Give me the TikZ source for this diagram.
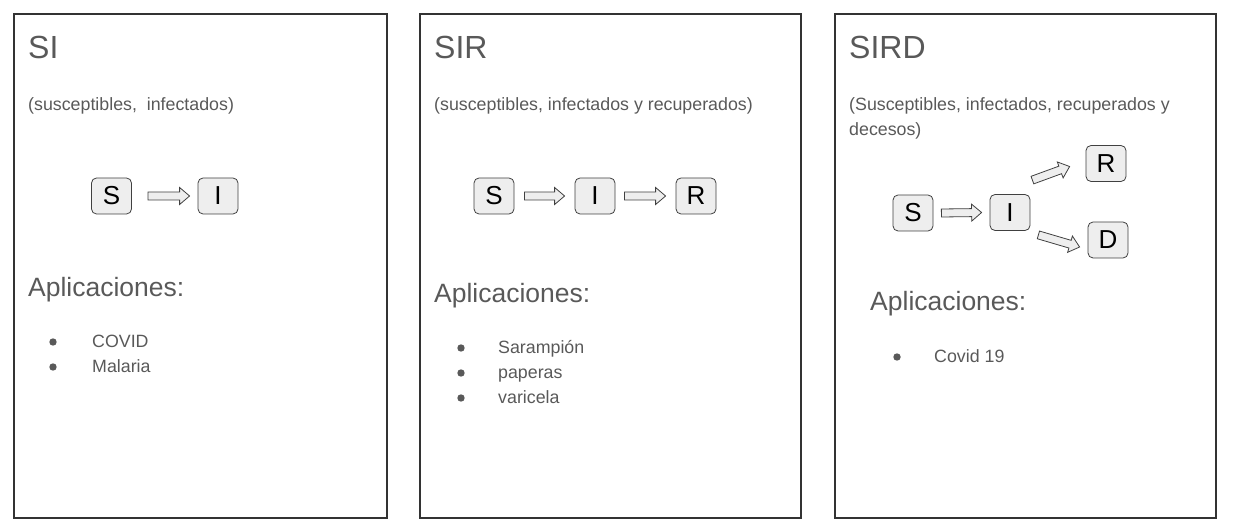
\documentclass[tikz,border=0pt]{standalone}
\usepackage{fontspec}
\setmainfont{Liberation Sans}
\usetikzlibrary{calc}

\definecolor{txtgray}{HTML}{595959}
\definecolor{boxfill}{HTML}{EEEEEE}
\definecolor{edgegray}{HTML}{333333}

% block arrow from tail #1 to tip #2
\newcommand{\blockarrow}[2]{%
  \coordinate (ba-t) at #1;
  \coordinate (ba-h) at #2;
  \coordinate (ba-n) at ($(ba-h)!10pt!(ba-t)$);
  \draw[arrowbody] ($(ba-t)!4pt!90:(ba-h)$) -- ($(ba-n)!4pt!90:(ba-h)$)
    -- ($(ba-n)!8.5pt!90:(ba-h)$) -- (ba-h) -- ($(ba-n)!8.5pt!-90:(ba-h)$)
    -- ($(ba-n)!4pt!-90:(ba-h)$) -- ($(ba-t)!4pt!-90:(ba-h)$) -- cycle;}

\begin{document}
\begin{tikzpicture}[x=1pt, y=-1pt,
    panel/.style={draw=edgegray, line width=1.2pt},
    state/.style={draw=black!75, fill=boxfill, rounded corners=5pt, line width=0.8pt,
      minimum width=40pt, minimum height=36pt, inner sep=0pt, text=black,
      font=\fontsize{26}{30}\selectfont},
    arrowbody/.style={draw=black!75, fill=boxfill, line width=0.8pt},
    title/.style={anchor=base west, inner sep=0pt, text=txtgray,
      font=\fontsize{32}{38}\selectfont},
    subtitle/.style={anchor=base west, inner sep=0pt, text=txtgray,
      font=\fontsize{17.8}{24}\selectfont},
    heading/.style={anchor=base west, inner sep=0pt, text=txtgray,
      font=\fontsize{26.5}{32}\selectfont},
    item/.style={anchor=base west, inner sep=0pt, text=txtgray,
      font=\fontsize{17.8}{24}\selectfont}]
    \useasboundingbox (0,0) rectangle (1237,526);

    % Panels
    \draw[panel] (14,14) rectangle (387,518);
    \draw[panel] (420,14) rectangle (801,518);
    \draw[panel] (835,14) rectangle (1216,518);

    % SI
    \node[title] (t1) at (28,59) {SI};
    \node[subtitle] (s1) at (28,111) {(susceptibles,\ \ infectados)};
    \node[state] (S1) at (111.5,196) {S};
    \node[state] (I1) at (218,196) {I};
    \blockarrow{([xshift=16pt]S1.east)}{([xshift=-8pt]I1.west)}
    \node[heading] (h1) at (28,297) {Aplicaciones:};
    \fill[txtgray] (53,342) circle (3.7pt);
    \node[item] (a1) at (92,348) {COVID};
    \fill[txtgray] (53,367) circle (3.7pt);
    \node[item] (b1) at (92,373) {Malaria};

    % SIR
    \node[title] (t2) at (434,59) {SIR};
    \node[subtitle] (s2) at (434,111) {(susceptibles, infectados y recuperados)};
    \node[state] (S2) at (494,196) {S};
    \node[state] (I2) at (595,196) {I};
    \node[state] (R2) at (696,196) {R};
    \blockarrow{([xshift=10pt]S2.east)}{([xshift=-10pt]I2.west)}
    \blockarrow{([xshift=9pt]I2.east)}{([xshift=-10pt]R2.west)}
    \node[heading] (h2) at (434,303) {Aplicaciones:};
    \fill[txtgray] (461,348) circle (3.7pt);
    \node[item] (a2) at (498,354) {Sarampión};
    \fill[txtgray] (461,373) circle (3.7pt);
    \node[item] (b2) at (498,379) {paperas};
    \fill[txtgray] (461,398) circle (3.7pt);
    \node[item] (c2) at (498,404) {varicela};

    % SIRD
    \node[title] (t3) at (849,59) {SIRD};
    \node[subtitle] (s3) at (849,111) {(Susceptibles, infectados, recuperados y};
    \node[subtitle] (s3b) at (849,136) {decesos)};
    \node[state] (S3) at (913,213) {S};
    \node[state] (I3) at (1010,212.5) {I};
    \node[state] (R3) at (1106,163.5) {R};
    \node[state] (D3) at (1108,240) {D};
    \blockarrow{([xshift=8pt]S3.east)}{([xshift=-8pt]I3.west)}
    \blockarrow{([shift={(2,-14)}]I3.north east)}{([shift={(-16,3)}]R3.west)}
    \blockarrow{([shift={(8,4)}]I3.south east)}{([shift={(-8,7)}]D3.west)}
    \node[heading] (h3) at (870,311) {Aplicaciones:};
    \fill[txtgray] (897,357) circle (3.7pt);
    \node[item] (a3) at (934,363) {Covid 19};
\end{tikzpicture}
\end{document}
